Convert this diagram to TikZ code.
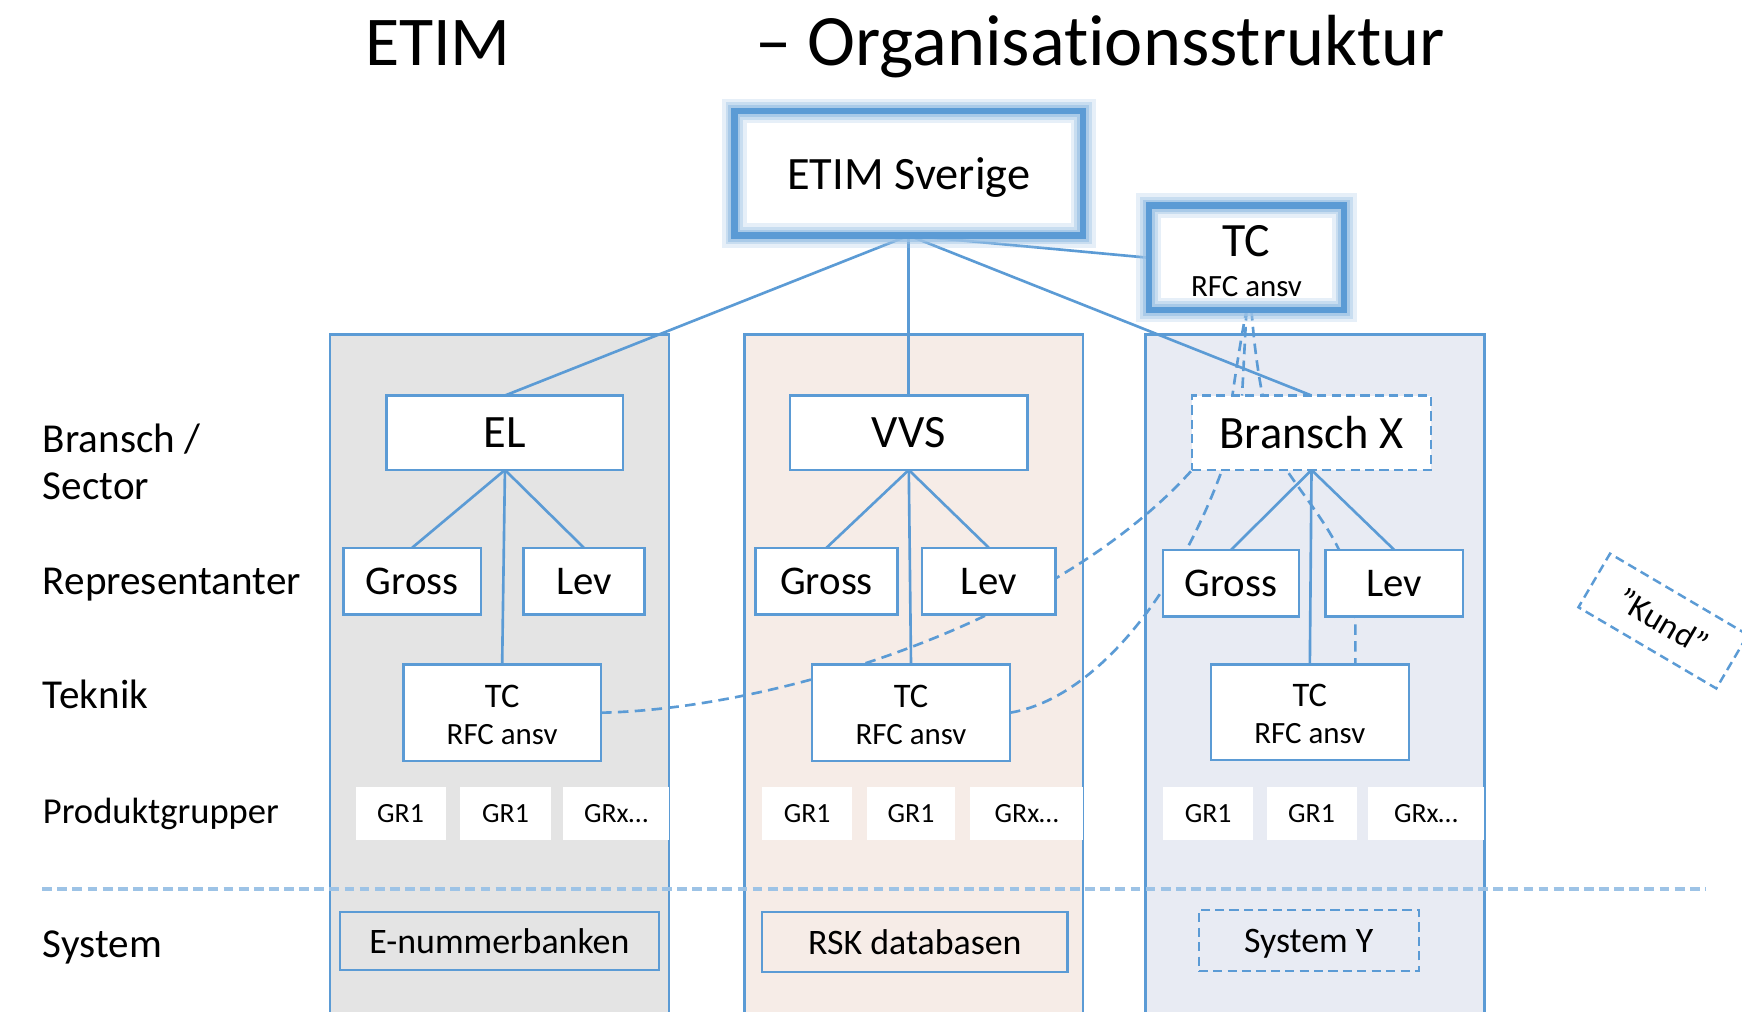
\documentclass[tikz,border=0pt]{standalone}
\usepackage{fontspec}
\setmainfont{Carlito}[Ligatures=NoCommon]
\definecolor{linec}{HTML}{5B9BD5}
\definecolor{glowc}{HTML}{9DC3E6}
\definecolor{hdashc}{HTML}{9DC3E6}
\definecolor{elfill}{HTML}{E4E4E4}
\definecolor{vvsfill}{HTML}{F6ECE7}
\definecolor{xfill}{HTML}{E8EBF3}
\newcommand\pu{0.011111cm}
\newcommand\fsz[1]{\fontsize{#1pt}{#1pt}\selectfont}
\newcommand\bx[7]{\node[#6, minimum width={(#4-#2)*\pu}, minimum height={(#5-#3)*\pu}] (#1) at ({(#2+#4)/2},{(#3+#5)/2}) {#7};}
\pgfdeclarelayer{back}
\pgfdeclarelayer{mid}
\pgfsetlayers{back,mid,main}
\begin{document}
\begin{tikzpicture}[x=0.011111cm, y=-0.011111cm,
  box/.style={draw=linec, line width=0.7pt, fill=white, inner sep=0pt, outer sep=0pt, text depth=0pt},
  dbox/.style={box, dash pattern=on 2.6pt off 1.5pt},
  glowbox/.style={fill=white, inner sep=0pt, outer sep=0pt, text depth=0pt,
    postaction={draw=glowc, line width=7pt, draw opacity=0.25},
    postaction={draw=glowc, line width=5pt, draw opacity=0.4},
    postaction={draw=glowc, line width=3.4pt, draw opacity=0.7},
    postaction={draw=linec, line width=1.8pt}},
  grbox/.style={fill=white, inner sep=0pt, outer sep=0pt, text depth=0pt, font=\fsz{7.9}},
  conn/.style={draw=linec, line width=0.75pt},
  dconn/.style={conn, dash pattern=on 3pt off 1.8pt},
  colb/.style={draw=linec, line width=0.7pt},
  lab/.style={anchor=base west, inner sep=0pt, font=\fsz{11.7}},
  txt/.style={inner sep=0pt, text depth=0pt}]
\useasboundingbox (0,0) rectangle (1568,910);

% columns
\begin{pgfonlayer}{back}
\fill[white] (0,0) rectangle (1568,910);
\fill[elfill] (297,301) rectangle (602,915);
\fill[vvsfill] (670,301) rectangle (975,915);
\fill[xfill] (1031,301) rectangle (1336,915);
\draw[colb] (297,915) |- (602,301) -- (602,915);
\draw[colb] (670,915) |- (975,301) -- (975,915);
\draw[colb] (1031,915) |- (1336,301) -- (1336,915);
\end{pgfonlayer}

% title
\node[anchor=base west, inner sep=0pt, font=\fsz{19.9}] (t1) at (328,59) {ETIM};
\node[anchor=base west, inner sep=0pt, font=\fsz{20.6}] (t2) at (679,59) {– Organisationsstruktur};

% left labels
\node[lab] (l1) at (38,407) {Bransch /};
\node[lab] (l2) at (38,450) {Sector};
\node[lab] (l3) at (38,535) {Representanter};
\node[lab] (l4) at (38,638) {Teknik};
\node[lab, font=\fsz{10.4}] (l5) at (38,741) {Produktgrupper};
\node[lab] (l6) at (38,862) {System};

% top boxes
\bx{sve}{661}{100}{975}{212}{glowbox, font=\fsz{13.2}}{ETIM Sverige}
\bx{tct}{1034}{185}{1210}{279}{glowbox}{}
\node[txt, font=\fsz{13.6}] (tct1) at (1122,217) {TC};
\node[txt, font=\fsz{8.8}] (tct2) at (1122,258) {RFC ansv};

% EL
\bx{el}{348}{356}{561}{423}{box, font=\fsz{13.2}}{EL}
\bx{elg}{309}{493}{433}{553}{box, font=\fsz{11.6}}{Gross}
\bx{ell}{471}{493}{580}{553}{box, font=\fsz{11.6}}{Lev}
\bx{eltc}{363}{598}{541}{685}{box}{}
\node[txt, font=\fsz{9.8}] (eltc1) at (452,627) {TC};
\node[txt, font=\fsz{8.8}] (eltc2) at (452,661) {RFC ansv};

% VVS
\bx{vvs}{711}{356}{925}{423}{box, font=\fsz{13.2}}{VVS}
\bx{vg}{680}{493}{808}{553}{box, font=\fsz{11.6}}{Gross}
\bx{vl}{830}{493}{950}{553}{box, font=\fsz{11.6}}{Lev}
\bx{vtc}{731}{598}{909}{685}{box}{}
\node[txt, font=\fsz{9.8}] (vtc1) at (820,627) {TC};
\node[txt, font=\fsz{8.8}] (vtc2) at (820,661) {RFC ansv};

% Bransch X
\bx{xb}{1073}{356}{1288}{423}{dbox, font=\fsz{13.2}}{Bransch X}
\bx{xg}{1047}{495}{1169}{555}{box, font=\fsz{11.6}}{Gross}
\bx{xl}{1193}{495}{1317}{555}{box, font=\fsz{11.6}}{Lev}
\bx{xtc}{1090}{598}{1268}{684}{box}{}
\node[txt, font=\fsz{9.8}] (xtc1) at (1179,626) {TC};
\node[txt, font=\fsz{8.8}] (xtc2) at (1179,660) {RFC ansv};

% connectors
\begin{pgfonlayer}{mid}
\draw[conn] (sve.south) -- (el.north);
\draw[conn] (sve.south) -- (vvs.north);
\draw[conn] (sve.south) -- (xb.north);
\draw[conn] (sve.south) -- (tct.west);
\draw[conn] (el.south) -- (elg.north);
\draw[conn] (el.south) -- (ell.north);
\draw[conn] (el.south) -- (eltc.north);
\draw[conn] (vvs.south) -- (vg.north);
\draw[conn] (vvs.south) -- (vl.north);
\draw[conn] (vvs.south) -- (vtc.north);
\draw[conn] (xb.south) -- (xg.north);
\draw[conn] (xb.south) -- (xl.north);
\draw[conn] (xb.south) -- (xtc.north);
% dashed links
\coordinate (c2m) at (1100,423);
\coordinate (c3m) at (1158,423);
\coordinate (c3e) at (1220,598);
\coordinate (cmid) at (1118,356);
\draw[dconn] (eltc.east) .. controls (700,638) and (950,560) .. (xb.south west);
\draw[dconn] (vtc.east) .. controls (980,630) and (1055,545) .. (c2m) .. controls (1104,395) and (1112,330) .. (tct.south);
\draw[dconn] (tct.south) -- (cmid);
\draw[dconn] ([xshift=0.05cm]tct.south) .. controls (1130,330) and (1140,390) .. (c3m) .. controls (1190,470) and (1220,500) .. (1220,560) -- (c3e);
\end{pgfonlayer}

% product groups
\bx{elgr1}{320}{708}{401}{756}{grbox}{GR1}
\bx{elgr2}{414}{708}{496}{756}{grbox}{GR1}
\bx{elgrx}{507}{708}{602}{756}{grbox}{GRx…}
\bx{vgr1}{686}{708}{767}{756}{grbox}{GR1}
\bx{vgr2}{780}{708}{860}{756}{grbox}{GR1}
\bx{vgrx}{873}{708}{975}{756}{grbox}{GRx…}
\bx{xgr1}{1047}{708}{1128}{756}{grbox}{GR1}
\bx{xgr2}{1140}{708}{1221}{756}{grbox}{GR1}
\bx{xgrx}{1231}{708}{1336}{756}{grbox}{GRx…}

% separator
\draw[draw=hdashc, line width=1pt, dash pattern=on 2.8pt off 1.5pt] (38,800) -- (1536,800);

% systems
\bx{elsys}{306}{821}{593}{873}{box, fill=elfill, font=\fsz{10.2}}{E-nummerbanken}
\bx{vsys}{686}{821}{961}{875}{box, fill=vvsfill, font=\fsz{10.2}}{RSK databasen}
\bx{xsys}{1079}{819}{1277}{874}{dbox, fill=xfill, font=\fsz{10.2}}{System Y}

% Kund
\node[dbox, rotate=-30.5, minimum width={144*\pu}, minimum height={56*\pu}, font=\fsz{9.6}] (kund) at (1497,559) {”Kund”};
\end{tikzpicture}
\end{document}
